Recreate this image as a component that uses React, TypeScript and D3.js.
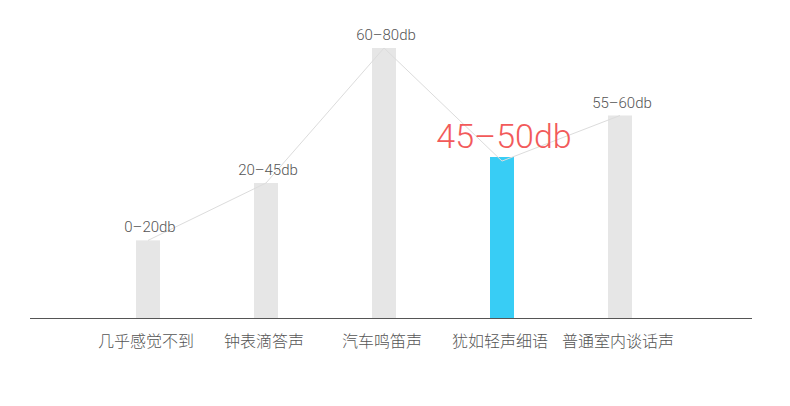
import * as d3 from 'd3';

const categories = ['几乎感觉不到', '钟表滴答声', '汽车鸣笛声', '犹如轻声细语', '普通室内谈话声'];
const rangeLabels = ['0–20db', '20–45db', '60–80db', '45–50db', '55–60db'];
const barValues = [23, 40, 80, 47.7, 60];
const lineValues = [23, 40, 80, 46.5, 60];
const highlightIndex = 3;

const W = 790;
const H = 406;

const latin = 'Roboto, "Liberation Sans", sans-serif';
const cjk = '"Noto Sans CJK SC", "Noto Sans", sans-serif';

export default function App() {
  const x = d3.scalePoint<string>().domain(categories).range([148, 620]);
  const y = d3.scaleLinear().domain([0, 80]).range([318, 48]);
  const barW = 24;

  const line = d3
    .line<number>()
    .x((_, i) => x(categories[i]) ?? 0)
    .y((d) => y(d));

  return (
    <svg
      width={W}
      height={H}
      style={{ position: 'absolute', left: 0, top: 0, background: '#fff' }}
    >
      {/* Bars */}
      {barValues.map((v, i) => (
        <rect
          key={categories[i]}
          x={(x(categories[i]) ?? 0) - barW / 2}
          y={y(v)}
          width={barW}
          height={y(0) - y(v)}
          fill={i === highlightIndex ? '#38cdf5' : '#e6e6e6'}
        />
      ))}

      {/* Trend line */}
      <path d={line(lineValues) ?? ''} fill="none" stroke="#dcdcdc" strokeWidth={1} />

      {/* Axis */}
      <line x1={30} x2={752} y1={y(0) + 0.5} y2={y(0) + 0.5} stroke="#555" strokeWidth={1} />

      {/* Value labels */}
      {rangeLabels.map((t, i) =>
        i === highlightIndex ? (
          <text
            key={t}
            x={(x(categories[i]) ?? 0) + 2}
            y={y(barValues[i]) - 9}
            textAnchor="middle"
            fill="#f25a5a"
            fontFamily={latin}
            fontWeight={300}
            fontSize={34}
          >
            {t}
          </text>
        ) : (
          <text
            key={t}
            x={(x(categories[i]) ?? 0) + 2}
            y={y(barValues[i]) - 8}
            textAnchor="middle"
            fill="#555"
            fontFamily={latin}
            fontWeight={300}
            fontSize={15}
          >
            {t}
          </text>
        ),
      )}

      {/* Category labels */}
      {categories.map((c) => (
        <text
          key={c}
          x={(x(c) ?? 0) - 2}
          y={347}
          textAnchor="middle"
          fill="#555"
          fontFamily={cjk}
          fontWeight={300}
          fontSize={16}
        >
          {c}
        </text>
      ))}
    </svg>
  );
}
